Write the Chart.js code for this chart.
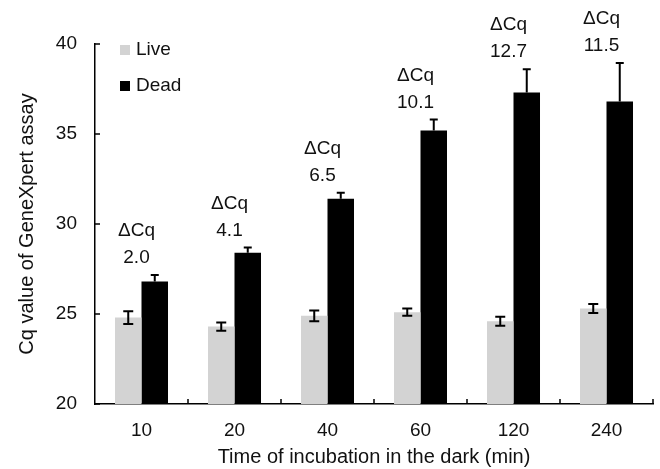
<!DOCTYPE html>
<html lang="en">
<head>
    <meta charset="UTF-8">
    <title>Cq value vs time of incubation in the dark</title>
    <script src="https://cdn.jsdelivr.net/npm/chart.js"></script>
    <style>
        html, body {
            margin: 0;
            padding: 0;
            background-color: #fff;
        }
        canvas {
            display: block;
        }
    </style>
</head>
<body>

    <canvas id="graficoCq" width="660" height="469"></canvas>

    <script>
        // dados
        const tempos = ['10', '20', '40', '60', '120', '240'];
        const cqLive = [24.8, 24.3, 24.9, 25.1, 24.6, 25.3];
        const errLive = [0.35, 0.23, 0.3, 0.2, 0.25, 0.25];
        const cqDead = [26.8, 28.4, 31.4, 35.2, 37.3, 36.8];
        const errDead = [0.37, 0.3, 0.33, 0.6, 1.3, 2.15];
        const deltaCq = ['2.0', '4.1', '6.5', '10.1', '12.7', '11.5'];
        const yTicks = [20, 25, 30, 35, 40];

        const fonte = 'Arial, "Liberation Sans", sans-serif';

        // barras de erro (Live: para cima e para baixo, Dead: só para cima)
        const errorBars = {
            id: 'errorBars',
            afterDatasetsDraw(chart) {
                const ctx = chart.ctx;
                const y = chart.scales.y;
                const sets = [[cqLive, errLive, true, 5], [cqDead, errDead, false, 4]];
                ctx.save();
                ctx.strokeStyle = '#000';
                ctx.lineWidth = 2;
                sets.forEach(([vals, errs, both, cap], i) => {
                    const meta = chart.getDatasetMeta(i);
                    meta.data.forEach((bar, j) => {
                        const top = y.getPixelForValue(vals[j] + errs[j]);
                        const bot = both ? y.getPixelForValue(vals[j] - errs[j]) : y.getPixelForValue(vals[j]);
                        ctx.beginPath();
                        ctx.moveTo(bar.x, top);
                        ctx.lineTo(bar.x, bot);
                        ctx.moveTo(bar.x - cap, top);
                        ctx.lineTo(bar.x + cap, top);
                        if (both) {
                            ctx.moveTo(bar.x - cap, bot);
                            ctx.lineTo(bar.x + cap, bot);
                        }
                        ctx.stroke();
                    });
                });
                ctx.restore();
            }
        };

        // anotações ΔCq acima das barras Dead
        const deltaLabels = {
            id: 'deltaLabels',
            afterDatasetsDraw(chart) {
                const ctx = chart.ctx;
                const x = chart.scales.x;
                const y = chart.scales.y;
                ctx.save();
                ctx.fillStyle = '#111';
                ctx.font = '19px ' + fonte;
                ctx.textAlign = 'center';
                ctx.textBaseline = 'middle';
                tempos.forEach((t, j) => {
                    const px = x.getPixelForValue(j) - 5;
                    const py = y.getPixelForValue(cqDead[j] + errDead[j]) - 17;
                    ctx.fillText(deltaCq[j], px, py);
                    ctx.fillText('\u0394Cq', px, py - 27);
                });
                ctx.restore();
            }
        };

        // marcas dos eixos para dentro + legenda
        const axisExtras = {
            id: 'axisExtras',
            afterDraw(chart) {
                const ctx = chart.ctx;
                const area = chart.chartArea;
                const x = chart.scales.x;
                const y = chart.scales.y;
                ctx.save();
                ctx.strokeStyle = '#000';
                ctx.lineWidth = 1.5;
                ctx.beginPath();
                yTicks.forEach(v => {
                    const py = y.getPixelForValue(v);
                    ctx.moveTo(area.left, py);
                    ctx.lineTo(area.left + 5, py);
                });
                tempos.forEach((t, j) => {
                    const px = j < tempos.length - 1
                        ? (x.getPixelForValue(j) + x.getPixelForValue(j + 1)) / 2
                        : area.right;
                    ctx.moveTo(px, area.bottom);
                    ctx.lineTo(px, area.bottom - 5);
                });
                ctx.stroke();

                // legenda
                ctx.font = '19px ' + fonte;
                ctx.textAlign = 'left';
                ctx.textBaseline = 'middle';
                chart.data.datasets.forEach((ds, i) => {
                    const ly = area.top + 6 + i * 36;
                    ctx.fillStyle = ds.backgroundColor;
                    ctx.fillRect(area.left + 25, ly - 5, 10, 10);
                    ctx.fillStyle = '#111';
                    ctx.fillText(ds.label, area.left + 41, ly);
                });
                ctx.restore();
            }
        };

        const ctx = document.getElementById('graficoCq').getContext('2d');
        const grafico = new Chart(ctx, {
            type: 'bar',
            data: {
                labels: tempos,
                datasets: [{
                    label: 'Live',
                    data: cqLive,
                    backgroundColor: '#d3d3d3',
                    barPercentage: 1,
                    categoryPercentage: 0.57
                }, {
                    label: 'Dead',
                    data: cqDead,
                    backgroundColor: '#000000',
                    barPercentage: 1,
                    categoryPercentage: 0.57
                }]
            },
            options: {
                responsive: false,
                animation: false,
                layout: {
                    padding: { top: 44, right: 7, left: 0, bottom: 0 }
                },
                scales: {
                    x: {
                        grid: { display: false },
                        border: { display: true, color: '#000', width: 1.5 },
                        ticks: {
                            color: '#111',
                            font: { size: 19, family: fonte },
                            padding: 7
                        },
                        title: {
                            display: true,
                            text: 'Time of incubation in the dark (min)',
                            color: '#111',
                            font: { size: 20, family: fonte },
                            padding: { top: 0, bottom: 0 }
                        },
                        afterFit(scale) { scale.height = 65; }
                    },
                    y: {
                        min: 20,
                        max: 40,
                        grid: { display: false },
                        border: { display: true, color: '#000', width: 1.5 },
                        ticks: {
                            stepSize: 5,
                            color: '#111',
                            font: { size: 19, family: fonte },
                            padding: 10
                        },
                        title: {
                            display: true,
                            text: 'Cq value of GeneXpert assay',
                            color: '#111',
                            font: { size: 20, family: fonte },
                            padding: { top: 15, bottom: 0 }
                        },
                        afterFit(scale) { scale.width = 95; }
                    }
                },
                plugins: {
                    legend: { display: false },
                    tooltip: { enabled: false }
                }
            },
            plugins: [errorBars, deltaLabels, axisExtras]
        });
    </script>
</body>
</html>
